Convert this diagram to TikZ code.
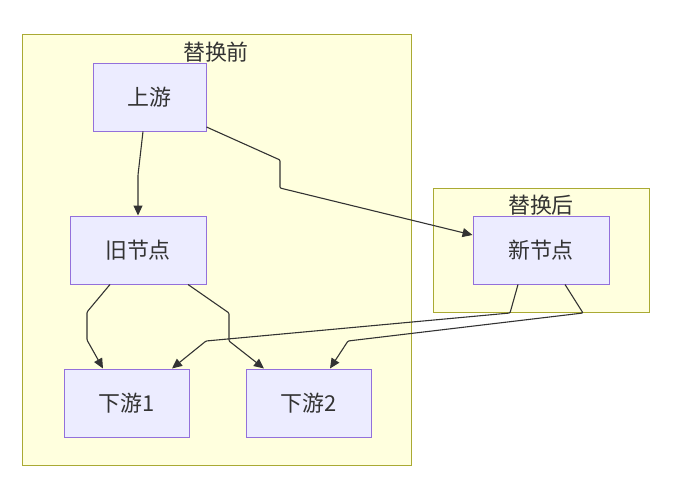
\documentclass[tikz,border=0pt]{standalone}
\usepackage{fontspec}
\setmainfont{Noto Sans CJK SC}
\usetikzlibrary{arrows.meta}
\definecolor{clfill}{HTML}{FFFFDE}
\definecolor{clline}{HTML}{AAAA33}
\definecolor{ndfill}{HTML}{ECECFF}
\definecolor{ndline}{HTML}{9370DB}
\definecolor{txt}{HTML}{333333}
\tikzset{
  cluster/.style={draw=clline, fill=clfill, line width=1pt},
  box/.style={draw=ndline, fill=ndfill, line width=1pt, text=txt, font=\fontsize{22}{26}\selectfont, inner sep=0pt},
  ttl/.style={text=txt, font=\fontsize{22}{26}\selectfont, inner sep=0pt},
  conn/.style={draw=txt, line width=1.1pt, -{Triangle[length=10pt,width=9pt]}, rounded corners=1pt},
}
\begin{document}
\begin{tikzpicture}[x=1bp,y=-1bp]
\useasboundingbox (0,0) rectangle (677,500);
% clusters
\path[cluster] (22,35) rectangle (411,465);
\path[cluster] (433,188) rectangle (649,312);
\node[ttl] (t1) at (216,52) {替换前};
\node[ttl] (t2) at (541,205) {替换后};
% nodes
\node[box, minimum width=113bp, minimum height=67bp] (up) at (149.5,97.5) {上游};
\node[box, minimum width=136bp, minimum height=68bp] (old) at (138,250) {旧节点};
\node[box, minimum width=136bp, minimum height=68bp] (new) at (541,250) {新节点};
\node[box, minimum width=125bp, minimum height=68bp] (d1) at (126.5,403) {下游1};
\node[box, minimum width=125bp, minimum height=68bp] (d2) at (308.5,403) {下游2};
% edges
\coordinate (a1) at (138,175);
\draw[conn] (up.south -| 143,0) -- (a1) -- (old.north -| 138,0);
\coordinate (b1) at (280,160);
\coordinate (b2) at (280,188);
\draw[conn] (up.east |- 0,127) -- (b1) -- (b2) -- (new.west |- 0,235);
\coordinate (c1) at (87,312);
\coordinate (c2) at (87,340);
\draw[conn] (old.south -| 110,0) -- (c1) -- (c2) -- (d1.north -| 103,0);
\coordinate (e1) at (229,313);
\coordinate (e2) at (229,341);
\draw[conn] (old.south -| 188,0) -- (e1) -- (e2) -- (d2.north -| 264,0);
\coordinate (f1) at (510,313);
\coordinate (f2) at (206,341);
\draw[conn] (new.south -| 518,0) -- (f1) -- (f2) -- (d1.north -| 172,0);
\coordinate (g1) at (583,313);
\coordinate (g2) at (348,341);
\draw[conn] (new.south -| 565,0) -- (g1) -- (g2) -- (d2.north -| 330,0);
\end{tikzpicture}
\end{document}
